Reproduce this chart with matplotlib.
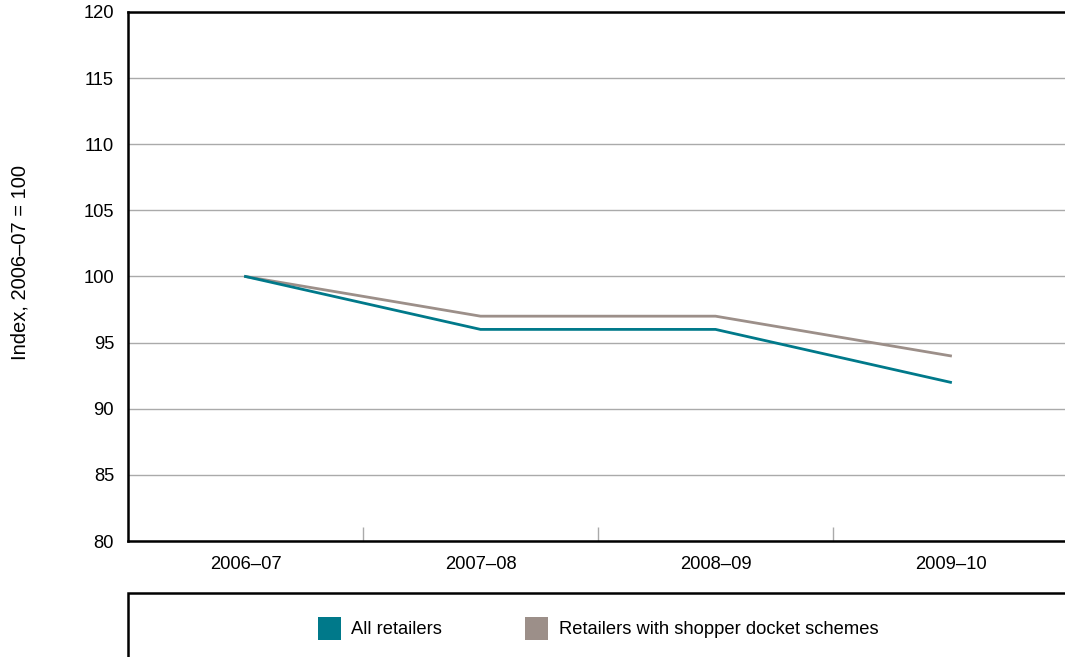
import matplotlib
matplotlib.use("Agg")
import matplotlib.pyplot as plt
from matplotlib.patches import Rectangle

plt.rcParams['font.family'] = ['Liberation Sans', 'DejaVu Sans']

years = ["2006–07", "2007–08", "2008–09", "2009–10"]
all_retailers = [100, 96, 96, 92]
docket_retailers = [100, 97, 97, 94]
yticks = [80, 85, 90, 95, 100, 105, 110, 115, 120]

teal = "#00798a"
taupe = "#9c8f89"
FS = 13.2

W, H = 1065, 657
fig = plt.figure(figsize=(W/100, H/100), dpi=100)
ax = fig.add_axes([128/W, 1-541/H, 940/W, 529/H])

x = list(range(len(years)))
ax.plot(x, docket_retailers, color=taupe, lw=2.0, solid_joinstyle='miter', zorder=3)
ax.plot(x, all_retailers, color=teal, lw=2.0, solid_joinstyle='miter', zorder=4)

ax.set_xlim(-0.5, len(years)-0.5)
ax.set_ylim(80, 120)
ax.set_yticks(yticks)
ax.set_yticklabels([str(v) for v in yticks], fontsize=FS)
ax.set_xticks(x)
ax.set_xticklabels(years, fontsize=FS)
ax.tick_params(axis='x', which='major', length=0, pad=11)
ax.tick_params(axis='y', length=0, pad=10)
ax.set_xticks([i + 0.5 for i in x[:-1]], minor=True)
ax.tick_params(axis='x', which='minor', direction='in', length=10, width=1, color='#aaaaaa')
ax.yaxis.grid(True, color='#aaaaaa', lw=1)
ax.set_axisbelow(True)
for s in ['left', 'top', 'bottom']:
    ax.spines[s].set_linewidth(1.8)
    ax.spines[s].set_color('black')
ax.spines['right'].set_visible(False)

fig.text(20/W, 1-262/H, "Index, 2006–07 = 100", rotation=90, ha='center', va='center', fontsize=14.5)

# legend box
fig.patches.append(Rectangle((128/W, -0.05), 1.0, (1-593/H)+0.05, transform=fig.transFigure,
                             fill=False, edgecolor='black', lw=1.8))
fig.patches.append(Rectangle((318/W, 1-640/H), 23/W, 23/H, transform=fig.transFigure,
                             facecolor=teal, edgecolor='none'))
fig.text(351/W, 1-630/H, "All retailers", ha='left', va='center', fontsize=FS)
fig.patches.append(Rectangle((525/W, 1-640/H), 23/W, 23/H, transform=fig.transFigure,
                             facecolor=taupe, edgecolor='none'))
fig.text(559/W, 1-630/H, "Retailers with shopper docket schemes", ha='left', va='center', fontsize=FS)

fig.savefig("out.png", dpi=100)
